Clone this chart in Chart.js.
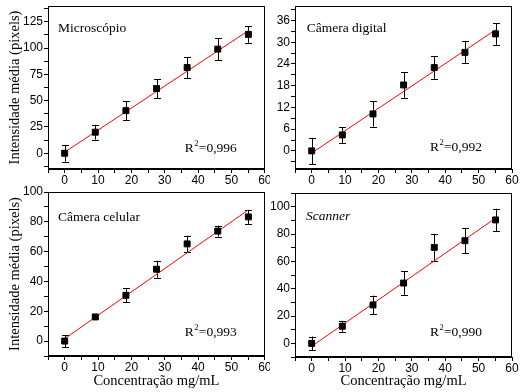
<!DOCTYPE html>
<html>
<head>
<meta charset="utf-8">
<script src="https://cdn.jsdelivr.net/npm/chart.js@4.4.0/dist/chart.umd.min.js"></script>
<style>
  html, body { margin: 0; padding: 0; background: #fff; }
  #wrap { position: relative; width: 522px; height: 392px; }
  .panel { position: absolute; }
</style>
</head>
<body>
<div id="wrap">
  <div class="panel" style="left:0;top:0;width:270px;height:188px"><canvas id="c1"></canvas></div>
  <div class="panel" style="left:270px;top:0;width:252px;height:188px"><canvas id="c2"></canvas></div>
  <div class="panel" style="left:0;top:186px;width:270px;height:206px"><canvas id="c3"></canvas></div>
  <div class="panel" style="left:270px;top:186px;width:252px;height:206px"><canvas id="c4"></canvas></div>
</div>
<script>
// concentrações (mg/mL)
const conc = [0, 9.18, 18.36, 27.54, 36.72, 45.9, 55.08];
const fitX = [0, 55.08];

// Microscópio
const microY = [0, 20, 40.5, 61.5, 81.5, 99, 113];
const microErr = [8, 7, 9, 9, 10, 10.5, 8];
const microFit = [1, 116.5];

// Câmera digital
const digY = [0, 4.4, 10.2, 18.2, 23, 27.2, 32.3];
const digErr = [3.6, 2.2, 3.5, 3.5, 3.1, 3.0, 3.0];
const digFit = [-0.6, 33.4];

// Câmera celular
const celY = [0, 16.2, 30.7, 48.2, 65.2, 73.8, 83.3];
const celErr = [4, 1, 4.7, 5.7, 5.4, 3.7, 4.7];
const celFit = [1.6, 88];

// Scanner
const scanY = [0, 12.5, 28.1, 44.1, 70.2, 75.1, 90.3];
const scanErr = [5, 4, 6.8, 8.6, 10, 9, 8.2];
const scanFit = [-2.2, 91.6];

const xTicks = [0, 10, 20, 30, 40, 50, 60];
const yTitle = 'Intensidade média (pixels)';
const xTitle = 'Concentração mg/mL';

const SERIF = '"Liberation Serif", "Times New Roman", serif';
const SANS = '"Liberation Sans", Arial, sans-serif';

const decor = {
  id: 'decor',
  beforeDatasetsDraw(chart, args, o) {
    const ctx = chart.ctx, xs = chart.scales.x, ys = chart.scales.y;
    ctx.save();
    ctx.strokeStyle = '#000'; ctx.lineWidth = 1;
    o.y.forEach((v, i) => {
      const px = Math.round(xs.getPixelForValue(conc[i])) + 0.5;
      const top = ys.getPixelForValue(v + o.err[i]);
      const bot = ys.getPixelForValue(v - o.err[i]);
      ctx.beginPath();
      ctx.moveTo(px, top); ctx.lineTo(px, bot);
      ctx.moveTo(px - 3.5, Math.round(top) + 0.5); ctx.lineTo(px + 3.5, Math.round(top) + 0.5);
      ctx.moveTo(px - 3.5, Math.round(bot) + 0.5); ctx.lineTo(px + 3.5, Math.round(bot) + 0.5);
      ctx.stroke();
    });
    ctx.restore();
  },
  afterDraw(chart, args, o) {
    const ctx = chart.ctx, a = chart.chartArea;
    ctx.save();
    ctx.strokeStyle = '#000'; ctx.lineWidth = 1;
    ctx.strokeRect(Math.round(a.left) + 0.5, Math.round(a.top) + 0.5,
      Math.round(a.right - a.left) - 1, Math.round(a.bottom - a.top) - 1);
    ctx.fillStyle = '#000';
    ctx.textBaseline = 'alphabetic';
    ctx.font = (o.italic ? 'italic ' : '') + '13.5px ' + SERIF;
    ctx.fillText(o.label, a.left + o.lx, a.top + o.ly);
    // R²
    const rx = a.right - o.rx, ry = a.bottom - o.ry;
    ctx.font = '13.5px ' + SERIF;
    ctx.fillText('R', rx, ry);
    const w = ctx.measureText('R').width;
    ctx.font = '8.5px ' + SERIF;
    ctx.fillText('2', rx + w + 0.5, ry - 6);
    ctx.font = '13.5px ' + SERIF;
    ctx.fillText('=' + o.r2, rx + w + 5, ry);
    ctx.restore();
  }
};

// ticks at every multiple of the minor step inside the range
function minorTicks(min, max, step) {
  return s => {
    const t = [];
    for (let k = Math.ceil(min / step - 1e-9); k * step <= max + 1e-9; k++) t.push({ value: k * step });
    s.ticks = t;
  };
}

function makePanel(id, p) {
  const isMajor = (v, m) => Math.abs(v / m - Math.round(v / m)) < 1e-6;
  new Chart(document.getElementById(id), {
    type: 'scatter',
    data: {
      datasets: [
        {
          data: conc.map((x, i) => ({ x, y: p.y[i] })),
          pointStyle: 'rect', pointRadius: 4.2,
          backgroundColor: '#000', borderColor: '#000', borderWidth: 1
        },
        {
          data: fitX.map((x, i) => ({ x, y: p.fit[i] })),
          showLine: true, pointRadius: 0,
          borderColor: '#ff0000', borderWidth: 1
        }
      ]
    },
    options: {
      responsive: true, maintainAspectRatio: false, animation: false,
      layout: { padding: p.pad },
      plugins: {
        legend: { display: false }, tooltip: { enabled: false },
        decor: { y: p.y, err: p.err, label: p.label, italic: p.italic, r2: p.r2,
                 lx: p.lx, ly: p.ly, rx: p.rx, ry: p.ry }
      },
      scales: {
        x: {
          type: 'linear', min: -5, max: 60,
          grid: { drawOnChartArea: false, tickLength: 4, color: '#000' },
          border: { color: '#000' },
          afterBuildTicks: minorTicks(-5, 60, 5),
          ticks: {
            autoSkip: false, maxRotation: 0, padding: 0,
            color: '#000', font: { family: SANS, size: 12 },
            callback: v => xTicks.includes(v) ? String(v) : ''
          },
          title: { display: p.xTitle, text: xTitle, color: '#000',
                   font: { family: SERIF, size: 14.5, lineHeight: 1.2 }, padding: { top: 0, bottom: 2 } },
          afterFit: s => { s.height = p.xh; s.paddingLeft = 0; s.paddingRight = 0; }
        },
        y: {
          type: 'linear', min: p.ymin, max: p.ymax,
          grid: { drawOnChartArea: false, tickLength: 4, color: '#000' },
          border: { color: '#000' },
          afterBuildTicks: minorTicks(p.ymin, p.ymax, p.ystep),
          ticks: {
            autoSkip: false, padding: 1,
            color: '#000', font: { family: SANS, size: 12 },
            callback: v => (v >= 0 && v <= p.ylabMax && isMajor(v, p.ymajor)) ? String(v) : ''
          },
          title: { display: p.yTitle, text: yTitle, color: '#000',
                   font: { family: SERIF, size: 14.5, lineHeight: 1.2 }, padding: { top: 6, bottom: 0 } },
          afterFit: s => { s.width = p.yw; s.paddingTop = 0; s.paddingBottom = 0; }
        }
      }
    },
    plugins: [decor]
  });
}

makePanel('c1', {
  y: microY, err: microErr, fit: microFit, label: 'Microscópio', r2: '0,996',
  ymin: -15, ymax: 140, ystep: 12.5, ymajor: 25, ylabMax: 125,
  pad: { left: 0, right: 5, top: 6, bottom: 0 }, yw: 48, xh: 19,
  yTitle: true, xTitle: false, lx: 10, ly: 25.5, rx: 80, ry: 17.3
});
makePanel('c2', {
  y: digY, err: digErr, fit: digFit, label: 'Câmera digital', r2: '0,992',
  ymin: -5, ymax: 40, ystep: 3, ymajor: 6, ylabMax: 36,
  pad: { left: 0, right: 10, top: 6, bottom: 0 }, yw: 25, xh: 19,
  yTitle: false, xTitle: false, lx: 11.7, ly: 26, rx: 82, ry: 18.3
});
makePanel('c3', {
  y: celY, err: celErr, fit: celFit, label: 'Câmera celular', r2: '0,993',
  ymin: -10, ymax: 100, ystep: 10, ymajor: 20, ylabMax: 100,
  pad: { left: 0, right: 5, top: 6, bottom: 0 }, yw: 48, xh: 36,
  yTitle: true, xTitle: true, lx: 10, ly: 29, rx: 80, ry: 20.3
});
makePanel('c4', {
  y: scanY, err: scanErr, fit: scanFit, label: 'Scanner', italic: true, r2: '0,990',
  ymin: -10, ymax: 110, ystep: 10, ymajor: 20, ylabMax: 100,
  pad: { left: 0, right: 10, top: 7, bottom: 0 }, yw: 25, xh: 35,
  yTitle: false, xTitle: true, lx: 11, ly: 27, rx: 82, ry: 21.3
});
</script>
</body>
</html>
